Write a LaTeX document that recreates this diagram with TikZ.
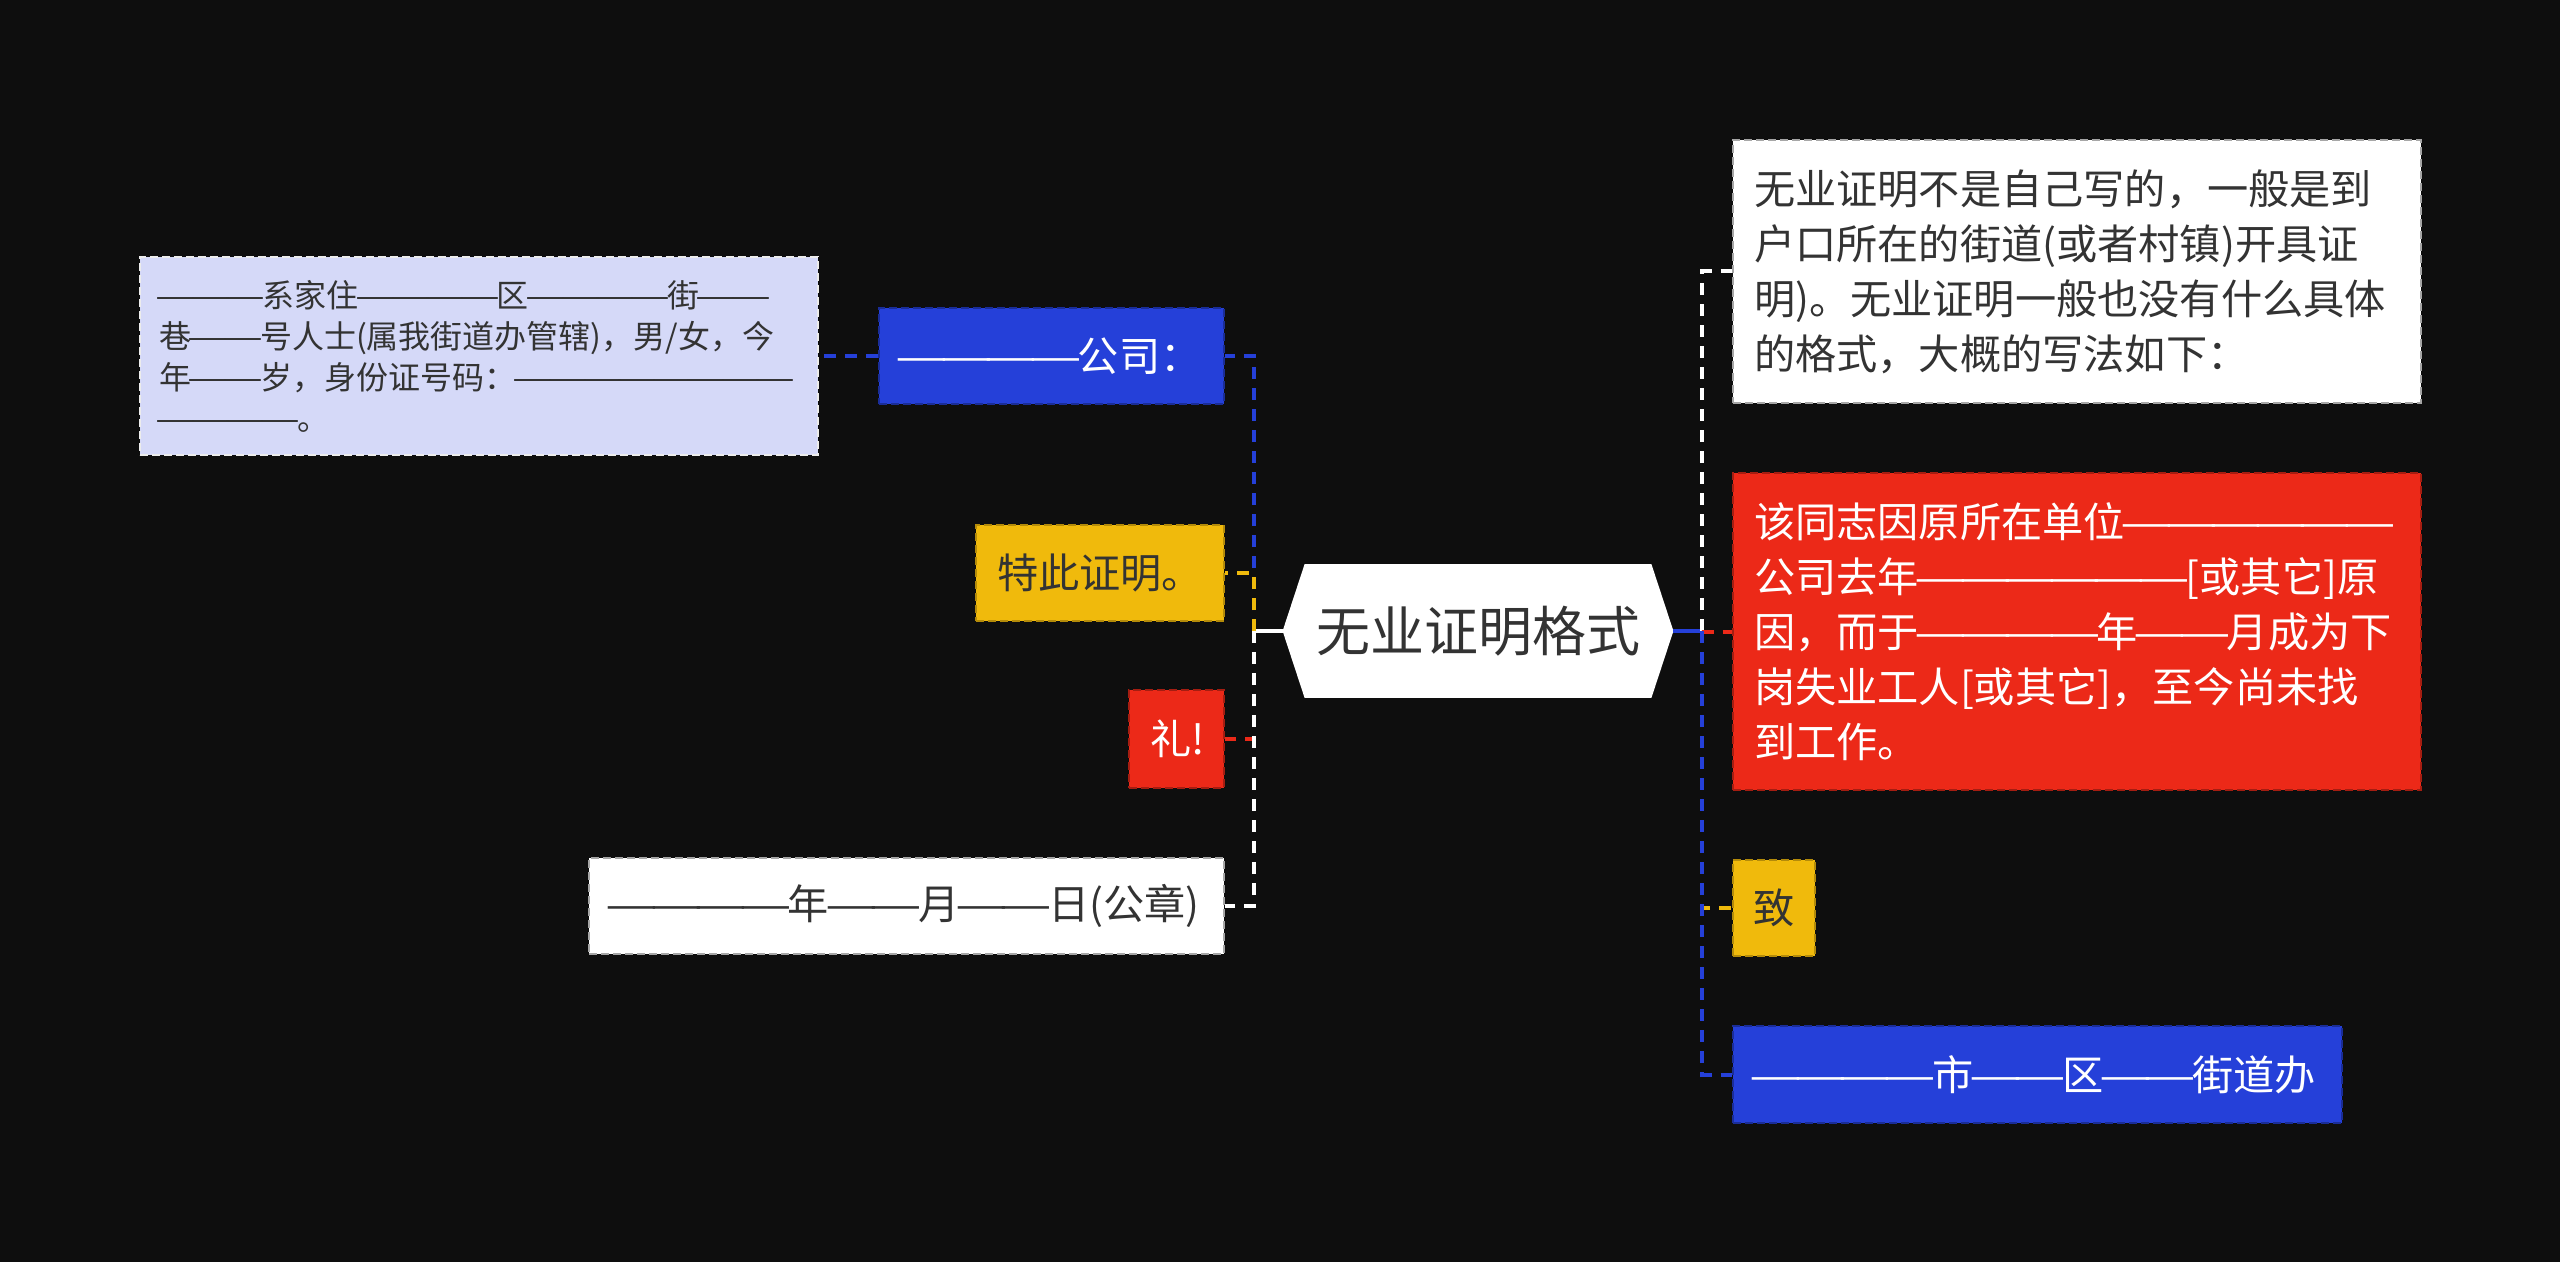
\documentclass[tikz,border=0pt]{standalone}
\usepackage{fontspec}
\usepackage{graphicx}
\setmainfont{Noto Sans CJK SC}
\usetikzlibrary{backgrounds}
\definecolor{bg}{RGB}{14,14,14}
\definecolor{cblue}{RGB}{37,64,217}
\definecolor{cred}{RGB}{236,41,24}
\definecolor{cyellow}{RGB}{240,186,12}
\definecolor{clav}{RGB}{213,217,248}
\definecolor{ctext}{RGB}{51,51,51}
\newcommand\dd{\makebox[1.08em]{\resizebox{1.28em}{\height}{—}}}
\begin{document}
\begin{tikzpicture}[x=0.5pt,y=-0.5pt,
  box/.style={draw, dash pattern=on 4pt off 2pt, line width=1pt, anchor=north west,
    align=left, inner xsep=10.5pt, inner ysep=0pt,
    font=\fontsize{20.6pt}{27.5pt}\selectfont},
  bluebox/.style={box, fill=cblue, draw=cblue!70!black, text=white},
  redbox/.style={box, fill=cred, draw=cred!70!black, text=white},
  yellowbox/.style={box, fill=cyellow, draw=cyellow!75!black, text=ctext},
  whitebox/.style={box, fill=white, draw=gray!70, text=ctext},
  lavbox/.style={box, fill=clav, draw=white!85!gray, text=ctext, inner xsep=9.5pt,
    font=\fontsize{16pt}{20.5pt}\selectfont},
  conn/.style={line width=2pt},
  dconn/.style={line width=2pt, dash pattern=on 6pt off 4.5pt},
]
\useasboundingbox (0,0) rectangle (2560,1262);

% central topic
\node[minimum width=195pt, minimum height=66.5pt, inner sep=0pt, text=ctext,
      font=\fontsize{27pt}{32pt}\selectfont] (c) at (1478,631) {无业证明格式};
\begin{pgfonlayer}{background}
  \fill[bg] (0,0) rectangle (2560,1262);
  \fill[white] (c.west) -- ([xshift=11pt]c.north west) -- ([xshift=-11pt]c.north east)
     -- (c.east) -- ([xshift=-11pt]c.south east) -- ([xshift=11pt]c.south west) -- cycle;
\end{pgfonlayer}

% left branch
\node[lavbox, text width=320pt, minimum height=99pt] (lav) at (139,256)
  {\dd\dd\dd 系家住\dd\dd\dd\dd 区\dd\dd\dd\dd 街\dd\dd\\巷\dd\dd 号人士(属我街道办管辖)，男/女，今\\年\dd\dd 岁，身份证号码：\dd\dd\dd\dd\dd\dd\dd\dd\\\dd\dd\dd\dd 。};
\node[bluebox, text width=151.5pt, minimum height=48pt] (gs) at (878,307) {\dd\dd\dd\dd 公司：};
\node[yellowbox, text width=103pt, minimum height=48pt] (tc) at (975,524) {特此证明。};
\node[redbox, text width=26.5pt, minimum height=49pt] (li) at (1128,689) {礼!};
\node[whitebox, text width=296.5pt, minimum height=48pt] (dt) at (588,857) {\dd\dd\dd\dd 年\dd\dd 月\dd\dd 日(公章)};

% right branch
\node[whitebox, text width=323pt, minimum height=131.5pt] (rw) at (1732,139)
  {无业证明不是自己写的，一般是到\\户口所在的街道(或者村镇)开具证\\明)。无业证明一般也没有什么具体\\的格式，大概的写法如下：};
\node[redbox, text width=323pt, minimum height=158.5pt] (rr) at (1732,472)
  {该同志因原所在单位\dd\dd\dd\dd\dd\dd\\公司去年\dd\dd\dd\dd\dd\dd[或其它]原\\因，而于\dd\dd\dd\dd 年\dd\dd 月成为下\\岗失业工人[或其它]，至今尚未找\\到工作。};
\node[yellowbox, text width=20.5pt, inner xsep=10.25pt, minimum height=48pt] (zh) at (1732,859) {致};
\node[bluebox, text width=283.5pt, minimum height=48.5pt] (sq) at (1732,1025) {\dd\dd\dd\dd 市\dd\dd 区\dd\dd 街道办};

% connectors
\coordinate (lb) at (1254,631);
\coordinate (rb) at (1702,631);
\draw[conn, white] (c.west) -- (lb);
\draw[dconn, cblue] (lb) |- (gs.east);
\draw[dconn, cyellow] (lb) |- (tc.east);
\draw[dconn, cred] (lb) |- (li.east);
\draw[dconn, white] (lb) |- (dt.east);
\draw[dconn, cblue] (gs.west) -- (lav.east);

\draw[conn, cblue] (c.east) -- (rb);
\draw[dconn, white] (rb) |- (rw.west);
\draw[dconn, cred] (rb) |- (rr.west);
\draw[dconn, cyellow] (rb) |- (zh.west);
\draw[dconn, cblue] (rb) |- (sq.west);
\end{tikzpicture}
\end{document}
